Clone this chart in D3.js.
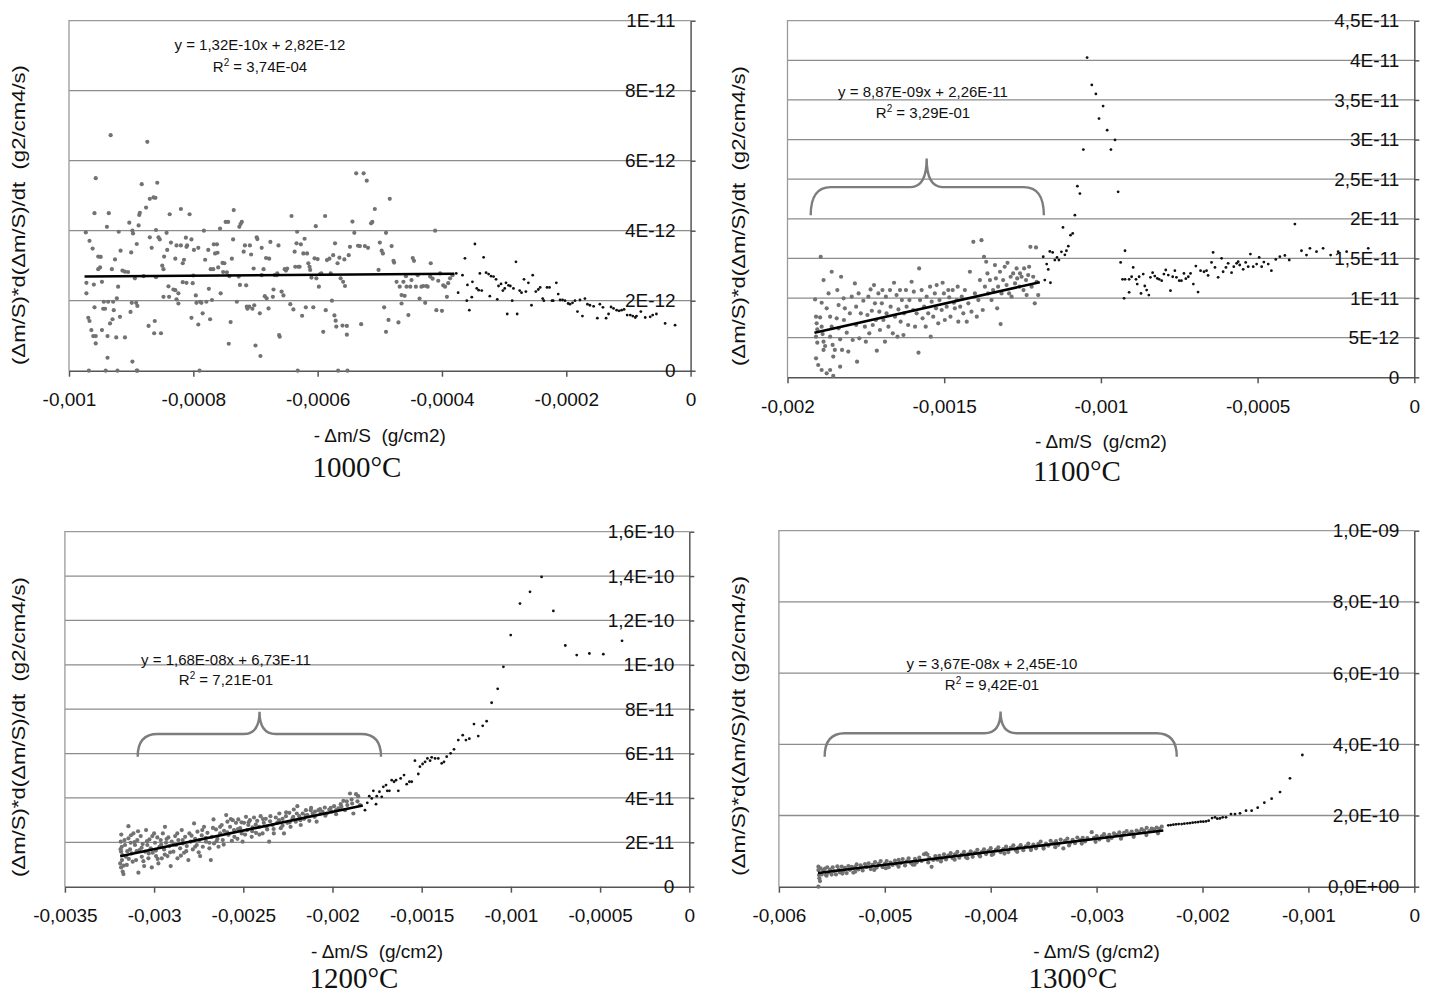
<!DOCTYPE html>
<html>
<head>
<meta charset="utf-8">
<script src="https://cdn.jsdelivr.net/npm/d3@7"></script>
<style>
  body { margin: 0; background: #fff; }
  text { font-family: "Liberation Sans", Arial, sans-serif; }
</style>
</head>
<body>
<div id="chart"></div>
<script>
// units: x in 1e-4 g/cm2, y in 1e-12 g2/cm4/s (1300°C: y in 1e-11)

// ---------- 1000°C ----------
const grey1000 = [[-9.73,3.95],[-9.67,3.71],[-9.62,3.49],[-9.72,2.51],[-9.72,2.21],[-9.69,1.51],[-9.67,1.42],[-9.64,1.16],[-9.61,0.99],[-9.57,0.99],[-9.57,0.78],[-9.59,1.81],[-9.60,2.46],[-9.57,5.50],[-9.59,4.50],[-9.53,3.26],[-9.49,3.25],[-9.53,2.90],[-9.50,2.95],[-9.68,0],[-9.41,0],[-9.22,0],[-8.91,0],[-8.90,0],[-9.47,1.16],[-9.47,2.54],[-9.45,1.77],[-9.42,1.77],[-9.44,1.97],[-9.39,4.11],[-9.36,4.50],[-9.33,6.73],[-9.37,1.97],[-9.38,0.37],[-9.38,0.99],[-9.34,1.35],[-9.31,2.90],[-9.30,1.47],[-9.29,1.97],[-9.28,1.73],[-9.26,3.18],[-9.24,0.95],[-9.23,2.07],[-9.21,2.40],[-9.20,3.97],[-9.18,1.54],[-9.17,3.43],[-9.14,2.86],[-9.10,2.83],[-9.05,2.82],[-9.03,4.23],[-9.00,3.38],[-9.01,1.68],[-8.99,1.94],[-8.98,4.00],[-8.97,3.92],[-9.10,0.95],[-8.98,0.26],[-8.94,2.64],[-8.92,1.94],[-8.90,1.85],[-8.88,4.15],[-8.87,4.45],[-8.91,3.62],[-8.86,4.51],[-8.83,5.33],[-8.80,2.70],[-8.76,4.66],[-8.74,6.54],[-8.72,1.28],[-8.70,4.91],[-8.70,3.81],[-8.67,3.51],[-8.64,4.95],[-8.62,1.42],[-8.61,4.94],[-8.60,4.02],[-8.60,2.67],[-8.63,1.07],[-8.58,5.37],[-8.56,3.81],[-8.54,3.75],[-8.52,1.07],[-8.50,3.00],[-8.48,2.90],[-8.48,2.11],[-8.47,3.26],[-8.43,3.94],[-8.42,3.45],[-8.40,2.41],[-8.39,2.11],[-8.38,4.47],[-8.36,3.66],[-8.32,2.32],[-8.29,3.20],[-8.29,2.30],[-8.27,3.58],[-8.27,2.04],[-8.24,1.92],[-8.24,2.21],[-8.20,3.58],[-8.20,4.62],[-8.17,2.53],[-8.17,3.07],[-8.15,3.17],[-8.12,3.80],[-8.11,2.51],[-8.11,3.54],[-8.10,3.58],[-8.06,4.47],[-8.03,1.51],[-8.03,3.75],[-8.01,2.50],[-8.00,2.72],[-7.99,3.45],[-7.96,2.15],[-7.95,1.94],[-7.92,1.32],[-7.92,3.51],[-7.90,0],[-7.89,1.97],[-7.87,1.94],[-7.85,1.64],[-7.83,4.00],[-7.81,3.17],[-7.79,1.97],[-7.76,3.45],[-7.75,2.34],[-7.73,1.47],[-7.72,2.90],[-7.70,2.02],[-7.68,2.90],[-7.67,3.61],[-7.65,3.35],[-7.62,3.61],[-7.61,3.37],[-7.60,2.95],[-7.57,4.06],[-7.56,2.21],[-7.53,3.08],[-7.52,2.82],[-7.50,3.07],[-7.48,4.25],[-7.46,2.81],[-7.44,4.25],[-7.43,0.77],[-7.42,2.70],[-7.40,1.39],[-7.38,3.20],[-7.36,3.75],[-7.35,4.59],[-7.30,1.97],[-7.27,2.69],[-7.26,4.11],[-7.25,2.45],[-7.24,4.19],[-7.22,4.25],[-7.19,3.40],[-7.17,3.58],[-7.15,2.44],[-7.14,1.83],[-7.13,1.77],[-7.10,1.83],[-7.09,3.58],[-7.07,3.32],[-7.05,1.77],[-7.03,2.92],[-7.02,1.87],[-7.00,0.72],[-6.98,3.81],[-6.97,3.76],[-6.93,1.64],[-6.92,0.42],[-6.90,3.51],[-6.90,2.73],[-6.87,2.90],[-6.85,2.13],[-6.83,3.22],[-6.82,2.07],[-6.79,1.78],[-6.78,3.20],[-6.76,3.68],[-6.72,2.11],[-6.71,2.32],[-6.69,2.73],[-6.66,2.73],[-6.65,2.78],[-6.63,3.58],[-6.62,1.02],[-6.61,0.97],[-6.58,2.26],[-6.55,2.15],[-6.53,2.90],[-6.51,2.86],[-6.49,2.92],[-6.44,1.90],[-6.42,4.42],[-6.39,1.75],[-6.37,3.40],[-6.36,2.97],[-6.34,3.64],[-6.33,3.97],[-6.32,0],[-6.31,2.97],[-6.29,2.97],[-6.27,3.61],[-6.25,1.57],[-6.23,3.35],[-6.21,3.77],[-6.19,1.81],[-6.17,3.35],[-6.15,3.07],[-6.13,2.97],[-6.12,2.88],[-6.10,2.66],[-6.07,1.81],[-6.05,3.21],[-6.03,4.13],[-6.02,2.64],[-6.00,3.19],[-5.98,2.40],[-5.96,2.76],[-5.94,2.78],[-5.91,1.11],[-5.88,4.42],[-5.87,1.73],[-5.85,3.16],[-5.81,3.20],[-5.79,2.78],[-5.77,2.00],[-5.75,3.30],[-5.73,1.58],[-5.72,3.64],[-5.71,1.43],[-5.70,1.26],[-5.68,3.07],[-5.67,0],[-5.65,3.23],[-5.63,2.64],[-5.60,1.29],[-5.59,2.54],[-5.57,3.18],[-5.56,2.42],[-5.53,1.03],[-5.53,1.28],[-5.52,0],[-5.50,3.30],[-5.48,3.54],[-5.44,4.26],[-5.41,3.94],[-5.38,5.64],[-5.35,3.57],[-5.30,1.33],[-5.32,3.56],[-5.26,5.64],[-5.24,3.56],[-5.21,5.43],[-5.19,3.51],[-5.14,4.21],[-5.12,4.25],[-5.08,4.62],[-5.02,2.88],[-5.00,3.66],[-4.97,3.43],[-4.95,3.35],[-4.93,1.81],[-4.90,3.94],[-4.90,1.11],[-4.86,1.45],[-4.84,4.91],[-4.81,3.56],[-4.78,3.14],[-4.77,3.09],[-4.73,2.54],[-4.70,1.38],[-4.68,2.40],[-4.65,2.16],[-4.65,1.92],[-4.62,2.54],[-4.60,2.14],[-4.58,2.70],[-4.57,2.40],[-4.54,1.59],[-4.51,2.40],[-4.49,2.59],[-4.47,3.22],[-4.45,3.14],[-4.42,2.40],[-4.39,2.73],[-4.36,2.06],[-4.33,2.40],[-4.30,2.42],[-4.27,1.94],[-4.25,2.42],[-4.23,2.40],[-4.19,2.69],[-4.18,3.07],[-4.15,2.63],[-4.11,4.00],[-4.09,1.73],[-4.06,2.57],[-4.03,2.78],[-4.00,1.71],[-3.98,2.44],[-3.95,2.40],[-3.92,2.11],[-3.90,2.50],[-3.87,2.64],[-3.83,2.73]];
const black1000 = [[-3.77,2.78],[-3.74,2.23],[-3.67,2.73],[-3.63,3.21],[-3.60,2.00],[-3.59,2.45],[-3.56,1.73],[-3.52,2.10],[-3.51,2.54],[-3.47,3.62],[-3.44,2.35],[-3.41,2.30],[-3.39,2.78],[-3.36,2.29],[-3.33,3.24],[-3.29,2.80],[-3.25,2.76],[-3.23,2.13],[-3.21,2.70],[-3.17,2.69],[-3.13,2.61],[-3.11,2.04],[-3.09,2.42],[-3.05,2.48],[-3.02,2.29],[-2.99,2.35],[-2.97,2.51],[-2.95,1.62],[-2.93,2.44],[-2.90,2.42],[-2.87,2.00],[-2.85,2.35],[-2.81,3.11],[-2.79,1.62],[-2.75,2.29],[-2.72,2.23],[-2.68,2.61],[-2.65,2.26],[-2.61,2.51],[-2.56,1.87],[-2.54,2.73],[-2.49,2.26],[-2.45,2.32],[-2.42,2.38],[-2.38,2.06],[-2.36,2.00],[-2.31,2.38],[-2.27,2.38],[-2.23,2.00],[-2.21,2.00],[-2.16,2.51],[-2.13,2.19],[-2.10,2.02],[-2.06,2.02],[-2.02,2.00],[-1.97,1.92],[-1.94,1.90],[-1.90,1.94],[-1.86,2.00],[-1.82,1.69],[-1.78,2.02],[-1.74,1.56],[-1.70,2.06],[-1.66,1.90],[-1.62,1.87],[-1.56,1.84],[-1.50,1.50],[-1.46,1.90],[-1.41,1.81],[-1.36,1.50],[-1.32,1.62],[-1.28,1.82],[-1.24,1.78],[-1.19,1.73],[-1.15,1.71],[-1.11,1.73],[-1.07,1.75],[-1.02,1.59],[-0.97,1.59],[-0.93,1.56],[-0.89,1.52],[-0.87,1.56],[-0.80,1.69],[-0.73,1.52],[-0.65,1.54],[-0.61,1.59],[-0.55,1.62],[-0.41,1.35],[-0.25,1.30]];
const fit1000 = { slope: 0.0132, intercept: 2.82, from: -9.75, to: -3.8 };
const eq1000 = ["y = 1,32E-10x + 2,82E-12", "3,74E-04"];
const xTicks1000 = [-10, -8, -6, -4, -2, 0];
const xLabels1000 = ["-0,001", "-0,0008", "-0,0006", "-0,0004", "-0,0002", "0"];
const yTicks1000 = [0, 2, 4, 6, 8, 10];
const yLabels1000 = ["0", "2E-12", "4E-12", "6E-12", "8E-12", "1E-11"];

// ---------- 1100°C ----------
const grey1100 = [[-18.94,15.21],[-19.12,9.83],[-19.09,7.65],[-19.07,6.81],[-19.05,6.05],[-19.09,5.13],[-19.05,4.37],[-19.09,2.39],[-19.02,1.55],[-18.85,12.27],[-18.91,9.41],[-18.96,7.56],[-18.91,6.39],[-18.88,5.46],[-18.85,4.50],[-18.80,3.95],[-18.85,3.45],[-18.91,0.92],[-18.75,0.50],[-18.64,0.92],[-18.54,0.17],[-18.59,13.32],[-18.69,10.59],[-18.75,8.70],[-18.64,7.65],[-18.59,6.39],[-18.64,5.13],[-18.56,4.08],[-18.49,3.45],[-18.54,2.61],[-18.32,1.34],[-18.41,11.01],[-18.37,9.12],[-18.43,7.44],[-18.37,6.18],[-18.32,4.79],[-18.26,3.45],[-18.29,12.69],[-18.21,9.96],[-18.17,8.70],[-18.20,7.23],[-18.11,5.63],[-18.06,3.24],[-18.01,8.07],[-17.95,10.17],[-17.92,4.71],[-17.85,11.85],[-17.81,8.91],[-17.81,6.60],[-17.78,1.97],[-17.73,10.59],[-17.71,4.92],[-17.66,8.07],[-17.58,9.66],[-17.53,6.39],[-17.50,4.50],[-17.45,7.86],[-17.42,10.17],[-17.39,5.55],[-17.35,11.09],[-17.31,8.40],[-17.28,6.60],[-17.24,11.64],[-17.21,9.33],[-17.18,7.23],[-17.15,3.36],[-17.10,10.59],[-17.07,8.28],[-17.05,5.97],[-16.99,9.33],[-16.97,11.01],[-16.94,7.23],[-16.89,4.50],[-16.86,10.17],[-16.84,8.07],[-16.78,6.39],[-16.73,11.01],[-16.71,8.91],[-16.64,5.55],[-16.60,11.93],[-16.57,7.65],[-16.52,10.38],[-16.49,5.13],[-16.46,8.57],[-16.41,11.01],[-16.39,7.02],[-16.35,9.75],[-16.30,5.34],[-16.28,8.07],[-16.22,11.01],[-16.20,8.91],[-16.15,6.60],[-16.11,9.75],[-16.04,12.06],[-15.99,8.49],[-15.97,10.80],[-15.93,6.39],[-15.88,8.07],[-15.82,3.11],[-15.80,13.74],[-15.77,9.75],[-15.72,11.01],[-15.69,7.44],[-15.64,8.91],[-15.59,6.39],[-15.56,10.17],[-15.51,8.07],[-15.45,11.43],[-15.43,5.13],[-15.40,9.54],[-15.35,7.65],[-15.30,10.59],[-15.26,8.70],[-15.24,11.64],[-15.19,6.81],[-15.15,9.75],[-15.08,8.49],[-15.05,11.93],[-15.01,10.59],[-14.98,7.23],[-14.92,8.91],[-14.87,11.01],[-14.84,10.08],[-14.80,7.65],[-14.73,11.01],[-14.69,9.41],[-14.66,8.70],[-14.60,9.75],[-14.57,11.43],[-14.55,7.02],[-14.49,8.91],[-14.44,10.17],[-14.39,8.07],[-14.34,11.01],[-14.28,7.02],[-14.23,9.33],[-14.18,13.32],[-14.13,8.28],[-14.07,17.10],[-14.02,10.59],[-13.96,7.65],[-13.91,9.75],[-13.86,12.27],[-13.81,17.31],[-13.77,8.49],[-13.73,15.21],[-13.70,11.43],[-13.66,14.58],[-13.62,13.11],[-13.60,10.59],[-13.54,12.27],[-13.49,9.75],[-13.44,11.01],[-13.38,14.16],[-13.35,12.48],[-13.31,8.70],[-13.28,11.43],[-13.22,13.32],[-13.20,6.72],[-13.17,10.59],[-13.12,12.27],[-13.07,13.95],[-13.01,11.64],[-12.98,14.45],[-12.93,10.59],[-12.88,12.69],[-12.85,10.17],[-12.80,13.11],[-12.74,11.85],[-12.69,13.74],[-12.67,12.48],[-12.60,11.43],[-12.58,13.11],[-12.53,12.69],[-12.47,11.01],[-12.45,13.74],[-12.39,12.27],[-12.37,10.38],[-12.32,12.90],[-12.29,13.95],[-12.25,16.47],[-12.21,11.43],[-12.16,12.69],[-12.11,9.33],[-12.07,16.39],[-12.05,12.06],[-12.00,10.38]];
const black1100 = [[-11.84,15.21],[-11.79,12.27],[-11.73,14.29],[-11.68,13.61],[-11.61,11.93],[-11.63,15.88],[-11.54,15.76],[-11.47,14.79],[-11.40,15.13],[-11.34,14.79],[-11.26,15.84],[-11.21,18.91],[-11.15,15.46],[-11.10,15.97],[-11.04,16.55],[-10.97,17.94],[-10.90,18.15],[-10.83,20.46],[-10.75,24.12],[-10.67,23.19],[-10.56,28.74],[-10.44,40.35],[-10.29,36.9],[-10.16,35.76],[-10.06,32.65],[-9.93,34.23],[-9.80,31.18],[-9.68,28.74],[-9.55,29.96],[-9.45,23.40],[-9.37,14.50],[-9.23,15.97],[-9.31,12.36],[-9.23,12.36],[-9.10,12.36],[-9.26,9.96],[-9.10,10.72],[-9.02,12.69],[-8.97,13.87],[-8.88,12.36],[-8.84,11.77],[-8.78,12.69],[-8.72,10.59],[-8.65,13.03],[-8.60,11.52],[-8.54,11.01],[-8.47,10.38],[-8.42,12.61],[-8.35,13.20],[-8.28,12.78],[-8.20,12.48],[-8.14,12.36],[-8.06,12.19],[-7.99,13.03],[-7.93,13.54],[-7.85,12.90],[-7.78,10.93],[-7.71,12.69],[-7.64,13.45],[-7.59,12.61],[-7.50,12.19],[-7.43,12.19],[-7.35,13.11],[-7.29,12.44],[-7.21,12.69],[-7.14,13.11],[-7.05,11.77],[-6.97,14.04],[-6.90,10.76],[-6.82,13.45],[-6.71,13.32],[-6.63,13.45],[-6.58,12.86],[-6.47,14.50],[-6.42,15.76],[-6.36,13.87],[-6.26,12.61],[-6.15,15.01],[-6.10,13.32],[-6.01,13.87],[-5.94,14.38],[-5.83,13.20],[-5.76,13.96],[-5.67,14.38],[-5.62,14.59],[-5.57,14.17],[-5.46,13.62],[-5.38,14.50],[-5.30,13.96],[-5.23,15.55],[-5.14,13.96],[-5.03,14.29],[-4.95,15.13],[-4.87,13.96],[-4.80,14.54],[-4.66,14.29],[-4.56,13.45],[-4.42,14.88],[-4.29,15.22],[-4.13,15.38],[-3.99,14.80],[-3.81,19.34],[-3.60,15.97],[-3.44,15.43],[-3.33,16.27],[-3.12,15.85],[-2.91,16.27],[-2.67,15.43],[-2.43,15.85],[-2.16,15.85],[-1.47,16.27]];
const fit1100 = { slope: 0.887, intercept: 22.6, from: -19.14, to: -11.95 };
const eq1100 = ["y = 8,87E-09x + 2,26E-11", "3,29E-01"];
const brace1100 = { from: -19.26, to: -11.82, tip: -15.56, end: 20.46, mid: 24.0, top: 27.6 };
const xTicks1100 = [-20, -15, -10, -5, 0];
const xLabels1100 = ["-0,002", "-0,0015", "-0,001", "-0,0005", "0"];
const yTicks1100 = [0, 5, 10, 15, 20, 25, 30, 35, 40, 45];
const yLabels1100 = ["0", "5E-12", "1E-11", "1,5E-11", "2E-11", "2,5E-11", "3E-11", "3,5E-11", "4E-11", "4,5E-11"];

// ---------- 1200°C ----------
const grey1200 = [[-31.87,20.3],[-31.81,18.0],[-31.85,15.8],[-31.80,12.0],[-31.85,8.7],[-31.76,6.8],[-31.72,5.7],[-31.63,18.8],[-31.58,13.5],[-31.53,9.8],[-31.44,27.3],[-31.44,21.8],[-31.35,16.8],[-31.31,19.8],[-31.26,15.0],[-31.16,24.0],[-31.07,18.8],[-31.01,12.0],[-30.94,21.0],[-30.88,6.3],[-30.82,16.5],[-30.75,22.8],[-30.69,13.5],[-30.64,19.2],[-30.56,9.3],[-30.50,15.8],[-30.45,25.5],[-30.38,18.8],[-30.32,12.8],[-30.26,21.3],[-30.19,17.3],[-30.13,8.7],[-30.08,15.3],[-30.00,24.0],[-29.95,19.8],[-29.89,13.8],[-29.82,22.2],[-29.76,10.5],[-29.70,18.0],[-29.63,21.0],[-29.57,12.8],[-29.51,24.0],[-29.44,16.8],[-29.39,27.0],[-29.33,19.8],[-29.25,13.8],[-29.20,22.2],[-29.14,18.3],[-29.07,9.3],[-29.01,20.3],[-28.92,15.8],[-28.82,22.8],[-28.77,18.8],[-28.69,12.8],[-28.64,21.0],[-28.54,17.3],[-28.45,25.5],[-28.39,19.5],[-28.32,15.3],[-28.26,22.5],[-28.17,18.3],[-28.08,12.0],[-28.02,24.0],[-27.95,20.3],[-27.83,16.8],[-27.76,28.5],[-27.70,21.6],[-27.61,18.8],[-27.57,24.8],[-27.46,21.0],[-27.42,13.8],[-27.33,23.1],[-27.27,18.0],[-27.20,27.0],[-27.09,20.3],[-27.01,24.3],[-26.90,17.3],[-26.82,12.0],[-26.76,22.5],[-26.67,30.3],[-26.64,19.5],[-26.53,25.8],[-26.45,21.6],[-26.39,18.0],[-26.30,24.0],[-26.21,27.8],[-26.15,21.0],[-26.08,25.2],[-25.96,32.3],[-25.89,29.3],[-25.83,23.4],[-25.74,27.0],[-25.64,20.7],[-25.59,30.0],[-25.52,25.5],[-25.41,28.8],[-25.33,21.6],[-25.28,30.3],[-25.18,26.4],[-25.09,24.0],[-25.04,20.3],[-24.96,28.8],[-24.85,31.5],[-24.78,25.5],[-24.72,27.8],[-24.63,30.0],[-24.53,22.5],[-24.48,26.7],[-24.40,31.2],[-24.29,24.3],[-24.22,29.7],[-24.11,27.0],[-24.03,31.8],[-23.92,24.0],[-23.85,28.8],[-23.74,30.6],[-23.66,25.8],[-23.55,20.3],[-23.48,31.8],[-23.36,27.8],[-23.29,24.0],[-23.18,31.2],[-23.10,28.8],[-22.98,33.0],[-22.90,26.4],[-22.80,30.6],[-22.72,24.0],[-22.61,31.8],[-22.53,28.8],[-22.42,33.3],[-22.35,27.0],[-22.24,30.8],[-22.17,34.8],[-22.06,29.3],[-21.97,36.3],[-21.86,31.8],[-21.78,27.8],[-21.67,33.0],[-21.59,30.6],[-21.49,34.5],[-21.41,32.3],[-21.30,29.7],[-21.22,34.5],[-21.11,33.0],[-20.98,33.8],[-20.89,29.3],[-20.79,34.5],[-20.66,33.0],[-20.56,33.8],[-20.43,35.7],[-20.33,33.0],[-20.18,34.8],[-20.05,33.8],[-19.91,36.3],[-19.80,32.7],[-19.67,35.3],[-19.54,37.2],[-19.39,38.7],[-19.30,34.5],[-19.17,36.8],[-19.02,42.0],[-18.93,39.3],[-18.83,33.0],[-18.68,41.7],[-18.56,40.8],[-18.46,36.8],
  [-31.9,10.5],[-31.88,16.9],[-31.84,23.5],[-31.78,14.2],[-31.7,9.5],[-31.66,21.0],[-31.5,16.0],[-31.42,12.5],[-31.3,23.2],[-31.2,11.3],[-31.1,20.1],[-30.98,16.0],[-30.9,25.0],[-30.7,17.5],[-30.6,11.5],[-30.4,20.5],[-30.3,15.0],[-30.1,22.8],[-29.9,16.3],[-29.8,12.5],[-29.6,19.0],[-29.4,14.5],[-29.3,21.5],[-29.1,15.5],[-28.9,19.0],[-28.7,24.0],[-28.5,14.0],[-28.4,21.0],[-28.2,16.0],[-27.9,23.0],[-27.7,18.0],[-27.5,15.5],[-27.3,25.5],[-27.1,22.0],[-26.9,19.8],[-26.7,26.5],[-26.5,20.5],[-26.3,27.0],[-26.1,19.0],[-25.9,24.5],[-25.7,30.5],[-25.5,22.5],[-25.3,26.0],[-25.1,29.0],[-24.9,23.5],[-24.7,29.0],[-24.5,25.0],[-24.3,28.0],[-24.1,23.5],[-23.9,30.5],[-23.7,27.0],[-23.5,29.5],[-23.3,26.0],[-23.0,30.0],[-22.8,27.5],[-22.6,33.5],[-22.4,29.0],[-22.2,31.5],[-22.0,33.0],[-21.8,30.0],[-21.5,32.0],[-21.2,35.5],[-21.0,31.5],[-20.7,35.0],[-20.4,32.0],[-20.1,35.5],[-19.8,34.5],[-19.5,36.0],[-19.2,38.5],[-18.9,37.5],[-18.6,38.5]];
const black1200 = [[-18.18,34.5],[-18.05,37.8],[-17.94,40.8],[-17.80,39.8],[-17.71,43.2],[-17.56,37.2],[-17.52,40.8],[-17.37,42.8],[-17.24,40.5],[-17.15,45.0],[-17.00,45.8],[-16.93,43.2],[-16.81,43.2],[-16.68,48.0],[-16.55,47.3],[-16.44,48.0],[-16.31,43.2],[-16.18,48.8],[-15.99,50.3],[-15.84,46.2],[-15.69,47.3],[-15.56,47.3],[-15.38,56.8],[-15.19,50.8],[-15.10,54.1],[-14.95,55.3],[-14.81,56.3],[-14.68,57.8],[-14.53,56.8],[-14.44,58.3],[-14.25,57.8],[-14.07,57.8],[-13.88,55.6],[-13.75,56.3],[-13.60,58.6],[-13.38,60.1],[-13.19,61.9],[-12.95,66.1],[-12.70,68.3],[-12.52,66.1],[-12.33,66.7],[-12.07,73.3],[-11.83,67.9],[-11.58,72.5],[-11.36,74.6],[-11.08,82.9],[-10.74,89.2],[-10.42,99.1],[-10.01,113.4],[-9.49,127.6],[-8.93,132.9],[-8.28,139.6],[-7.62,124.3],[-6.95,108.7],[-6.31,104.4],[-5.60,105.1],[-4.82,104.8],[-3.77,110.8]];
const fit1200 = { slope: 1.68, intercept: 67.3, from: -31.9, to: -18.3 };
const eq1200 = ["y = 1,68E-08x + 6,73E-11", "7,21E-01"];
const brace1200 = { from: -30.92, to: -17.28, tip: -24.09, end: 58.6, mid: 68.8, top: 78.8 };
const xTicks1200 = [-35, -30, -25, -20, -15, -10, -5, 0];
const xLabels1200 = ["-0,0035", "-0,003", "-0,0025", "-0,002", "-0,0015", "-0,001", "-0,0005", "0"];
const yTicks1200 = [0, 20, 40, 60, 80, 100, 120, 140, 160];
const yLabels1200 = ["0", "2E-11", "4E-11", "6E-11", "8E-11", "1E-10", "1,2E-10", "1,4E-10", "1,6E-10"];

// ---------- 1300°C (y in 1e-11) ----------
const grey1300 = [[-56.27,5.62],[-56.27,4.68],[-56.21,3.28],[-56.18,2.34],[-56.12,1.59],[-56.27,0],[-56.06,5.13],[-55.96,3.46],[-55.80,4.62],[-55.65,5.08],[-55.55,3.31],[-55.43,5.46],[-55.33,3.99],[-55.17,4.75],[-55.02,3.41],[-54.92,5.44],[-54.80,4.39],[-54.61,3.46],[-54.48,5.71],[-54.36,4.85],[-54.23,4.00],[-54.07,5.66],[-53.92,4.41],[-53.76,5.27],[-53.60,3.83],[-53.44,5.79],[-53.29,4.74],[-53.13,5.60],[-52.97,3.96],[-52.81,5.52],[-52.66,6.27],[-52.50,4.83],[-52.28,6.01],[-52.09,4.58],[-51.87,6.36],[-51.71,5.52],[-51.52,6.59],[-51.33,4.96],[-51.14,6.13],[-50.92,6.91],[-50.77,5.37],[-50.58,6.44],[-50.39,7.21],[-50.20,5.48],[-49.98,6.46],[-49.82,7.22],[-49.63,5.49],[-49.45,6.75],[-49.26,6.12],[-49.04,7.30],[-48.88,6.36],[-48.69,7.53],[-48.50,6.60],[-48.31,7.77],[-48.09,5.95],[-47.94,7.11],[-47.75,7.98],[-47.56,6.75],[-47.37,6.22],[-47.15,7.80],[-46.99,6.85],[-46.74,8.15],[-46.52,7.23],[-46.30,9.11],[-46.11,9.38],[-45.98,9.03],[-45.80,8.09],[-45.58,5.57],[-45.42,7.53],[-45.23,8.60],[-45.04,7.57],[-44.85,8.64],[-44.63,7.92],[-44.41,9.10],[-44.22,7.67],[-44.00,8.75],[-43.78,9.43],[-43.59,8.00],[-43.37,9.08],[-43.15,9.76],[-42.96,8.13],[-42.74,9.01],[-42.52,9.79],[-42.33,8.26],[-42.11,9.15],[-41.89,9.93],[-41.70,8.40],[-41.48,9.58],[-41.26,10.36],[-41.07,8.83],[-40.85,9.71],[-40.63,10.49],[-40.44,9.16],[-40.22,10.04],[-40.00,10.82],[-39.75,9.21],[-39.50,10.40],[-39.28,11.08],[-39.06,9.67],[-38.81,10.56],[-38.55,11.25],[-38.33,9.73],[-38.11,10.91],[-37.86,11.61],[-37.61,10.20],[-37.39,10.98],[-37.17,11.66],[-36.92,10.25],[-36.67,11.34],[-36.45,12.12],[-36.23,10.80],[-35.97,11.80],[-35.72,10.79],[-35.50,12.07],[-35.28,12.65],[-35.03,11.24],[-34.78,12.14],[-34.56,11.52],[-34.34,12.90],[-34.08,12.19],[-33.83,12.78],[-33.61,11.76],[-33.39,13.25],[-33.14,10.74],[-32.98,12.90],[-32.76,13.48],[-32.51,12.27],[-32.26,13.16],[-32.04,12.24],[-31.82,13.82],[-31.57,13.11],[-31.31,13.71],[-31.09,12.69],[-30.87,13.67],[-30.46,15.32],[-30.25,13.70],[-29.99,14.19],[-29.74,13.29],[-29.52,14.17],[-29.30,14.75],[-29.05,13.84],[-28.80,14.53],[-28.58,13.71],[-28.36,14.99],[-28.10,14.49],[-27.85,15.28],[-27.63,14.26],[-27.41,15.14],[-27.16,15.63],[-26.91,14.82],[-26.69,15.50],[-26.47,14.69],[-26.22,15.78],[-25.97,15.37],[-25.75,16.15],[-25.52,15.73],[-25.27,16.53],[-25.02,15.62],[-24.80,16.30],[-24.58,16.08],[-24.33,16.57],[-24.08,16.26],[-23.85,16.85],
  [-55.5,3.1],[-54.0,3.7],[-52.8,4.2],[-51.0,4.7],[-49.9,5.2],[-48.7,5.6],[-47.2,6.2],[-45.9,6.8],[-44.7,7.1],[-43.4,7.6],[-42.2,8.0],[-41.0,8.5],[-39.9,8.9],[-38.7,9.3],[-37.5,9.8],[-36.2,10.3],[-35.0,10.7],[-33.9,11.1],[-32.6,11.6],[-31.4,12.1],[-30.1,12.6],[-28.9,13.0],[-27.7,13.5],[-26.5,14.0],[-25.3,14.5],[-24.2,15.0]];
const black1300 = [[-23.23,17.23],[-23.00,17.32],[-22.75,17.42],[-22.50,17.51],[-22.25,17.60],[-21.97,17.60],[-21.71,17.70],[-21.43,17.79],[-21.18,17.88],[-20.93,17.98],[-20.67,18.07],[-20.42,18.16],[-20.17,18.26],[-19.92,18.26],[-19.67,18.35],[-19.42,18.54],[-19.10,19.29],[-18.82,19.48],[-18.60,19.10],[-18.35,19.19],[-18.09,19.48],[-17.78,19.48],[-17.31,20.41],[-16.93,20.41],[-16.46,20.60],[-15.89,21.35],[-15.36,21.35],[-14.79,22.19],[-14.16,23.60],[-13.47,24.72],[-12.68,26.59],[-11.74,30.43],[-10.57,36.99]];
const fit1300 = { slope: 0.367, intercept: 24.5, from: -56.3, to: -23.7 };
const eq1300 = ["y = 3,67E-08x + 2,45E-10", "9,42E-01"];
const brace1300 = { from: -55.68, to: -22.43, tip: -39.07, end: 36.5, mid: 43.1, top: 49.2 };
const xTicks1300 = [-60, -50, -40, -30, -20, -10, 0];
const xLabels1300 = ["-0,006", "-0,005", "-0,004", "-0,003", "-0,002", "-0,001", "0"];
const yTicks1300 = [0, 20, 40, 60, 80, 100];
const yLabels1300 = ["0,0E+00", "2,0E-10", "4,0E-10", "6,0E-10", "8,0E-10", "1,0E-09"];

// layout of the four panels (plot box = left, top, right, bottom)
const panels = [
  { title: "1000°C", grey: grey1000, black: black1000, fit: fit1000, eq: eq1000, brace: null,
    xDomain: [-10, 0], yDomain: [0, 10], xTicks: xTicks1000, xLabels: xLabels1000, yTicks: yTicks1000, yLabels: yLabels1000,
    box: [69, 20.7, 690.6, 370.7], eqPos: [260, 50, 72], titlePos: [357, 477], yTitle: [18, 215],
    xTitle: "- \u0394m/S  (g/cm2)", yTitleText: "(\u0394m/S)*d(\u0394m/S)/dt  (g2/cm4/s)" },
  { title: "1100°C", grey: grey1100, black: black1100, fit: fit1100, eq: eq1100, brace: brace1100,
    xDomain: [-20, 0], yDomain: [0, 45], xTicks: xTicks1100, xLabels: xLabels1100, yTicks: yTicks1100, yLabels: yLabels1100,
    box: [787.5, 20.7, 1414.3, 377.3], eqPos: [923, 97, 118], titlePos: [1077, 481], yTitle: [738, 216],
    xTitle: "- \u0394m/S  (g/cm2)", yTitleText: "(\u0394m/S)*d(\u0394m/S)/dt  (g2/cm4/s)" },
  { title: "1200°C", grey: grey1200, black: black1200, fit: fit1200, eq: eq1200, brace: brace1200,
    xDomain: [-35, 0], yDomain: [0, 160], xTicks: xTicks1200, xLabels: xLabels1200, yTicks: yTicks1200, yLabels: yLabels1200,
    box: [64.9, 531.7, 689.3, 886.7], eqPos: [226, 665, 685], titlePos: [354, 988], yTitle: [18, 727],
    xTitle: "- \u0394m/S  (g/cm2)", yTitleText: "(\u0394m/S)*d(\u0394m/S)/dt  (g2/cm4/s)" },
  { title: "1300°C", grey: grey1300, black: black1300, fit: fit1300, eq: eq1300, brace: brace1300,
    xDomain: [-60, 0], yDomain: [0, 100], xTicks: xTicks1300, xLabels: xLabels1300, yTicks: yTicks1300, yLabels: yLabels1300,
    box: [778.9, 530.7, 1414.3, 886.7], eqPos: [992, 669, 690], titlePos: [1073, 988], yTitle: [738, 726],
    xTitle: "- \u0394m/S (g/cm2)", yTitleText: "(\u0394m/S)*d(\u0394m/S)/dt (g2/cm4/s)" }
];

const svg = d3.select("#chart")
  .append("svg")
  .attr("width", 1436)
  .attr("height", 997);

// curly brace built from scaled points
function bracePath(x, y, b) {
  const xa = x(b.from), xb = x(b.to), xt = x(b.tip);
  const ye = y(b.end), ym = y(b.mid), yt = y(b.top);
  const r = 20, r2 = 16;
  return `M${xa},${ye} Q${xa},${ym} ${xa + r},${ym} L${xt - r2},${ym} Q${xt},${ym} ${xt},${yt}` +
         ` Q${xt},${ym} ${xt + r2},${ym} L${xb - r},${ym} Q${xb},${ym} ${xb},${ye}`;
}

panels.forEach(function (p) {
  const [x0, y0, x1, y1] = p.box;
  const x = d3.scaleLinear().domain(p.xDomain).range([x0, x1]);
  const y = d3.scaleLinear().domain(p.yDomain).range([y1, y0]);
  const g = svg.append("g");

  // gridlines
  g.selectAll(".grid")
    .data(p.yTicks.filter(d => d > 0 && d < p.yDomain[1]))
    .join("line")
    .attr("x1", x0).attr("x2", x1)
    .attr("y1", d => y(d)).attr("y2", d => y(d))
    .attr("stroke", "#8c8c8c").attr("stroke-width", 1.3);

  // top and left frame
  g.append("path")
    .attr("d", `M${x0},${y1} V${y0} H${x1}`)
    .attr("fill", "none").attr("stroke", "#9a9a9a").attr("stroke-width", 1.3);

  // x axis
  const xAxis = g.append("g")
    .attr("transform", `translate(0,${y1})`)
    .call(d3.axisBottom(x).tickValues(p.xTicks).tickFormat((d, i) => p.xLabels[i])
      .tickSizeInner(6).tickSizeOuter(0).tickPadding(16));
  xAxis.selectAll("path, line").attr("stroke", "#555").attr("stroke-width", 1.5);
  xAxis.selectAll("text").attr("font-size", 19).attr("fill", "#111");

  // y axis on the right edge, labels inside
  const yAxis = g.append("g")
    .attr("transform", `translate(${x1},0)`)
    .call(d3.axisLeft(y).tickValues(p.yTicks).tickFormat((d, i) => p.yLabels[i])
      .tickSizeInner(-5).tickSizeOuter(0).tickPadding(15));
  yAxis.selectAll("path, line").attr("stroke", "#555").attr("stroke-width", 1.5);
  yAxis.selectAll("text").attr("font-size", 19).attr("fill", "#111");

  // grey points (fitted range)
  g.selectAll(".grey")
    .data(p.grey)
    .join("circle")
    .attr("cx", d => x(d[0])).attr("cy", d => y(d[1]))
    .attr("r", 2.1)
    .attr("fill", "#727272");

  // regression line
  g.append("line")
    .attr("x1", x(p.fit.from)).attr("y1", y(p.fit.intercept + p.fit.slope * p.fit.from))
    .attr("x2", x(p.fit.to)).attr("y2", y(p.fit.intercept + p.fit.slope * p.fit.to))
    .attr("stroke", "#000").attr("stroke-width", 2.6);

  // black points
  g.selectAll(".black")
    .data(p.black)
    .join("circle")
    .attr("cx", d => x(d[0])).attr("cy", d => y(d[1]))
    .attr("r", 1.4)
    .attr("fill", "#111");

  // brace
  if (p.brace) {
    g.append("path")
      .attr("d", bracePath(x, y, p.brace))
      .attr("fill", "none").attr("stroke", "#7d7d7d").attr("stroke-width", 2.4);
  }

  // equation and R2
  g.append("text")
    .attr("x", p.eqPos[0]).attr("y", p.eqPos[1])
    .attr("text-anchor", "middle").attr("font-size", 15).attr("fill", "#111")
    .style("white-space", "pre")
    .text(p.eq[0]);
  const r2 = g.append("text")
    .attr("x", p.eqPos[0]).attr("y", p.eqPos[2])
    .attr("text-anchor", "middle").attr("font-size", 15).attr("fill", "#111")
    .style("white-space", "pre");
  r2.append("tspan").text("R");
  r2.append("tspan").attr("dy", -6).attr("font-size", 10).text("2");
  r2.append("tspan").attr("dy", 6).text(" = " + p.eq[1]);

  // axis titles
  g.append("text")
    .attr("x", (x0 + x1) / 2).attr("y", y1 + 71)
    .attr("text-anchor", "middle").attr("font-size", 19).attr("fill", "#111")
    .style("white-space", "pre")
    .text(p.xTitle);
  g.append("text")
    .attr("transform", `translate(${p.yTitle[0]},${p.yTitle[1]}) rotate(-90)`)
    .attr("text-anchor", "middle").attr("dy", "0.35em")
    .attr("font-size", 19).attr("fill", "#111")
    .attr("textLength", 300).attr("lengthAdjust", "spacingAndGlyphs")
    .style("white-space", "pre")
    .text(p.yTitleText);

  // panel title, serif like the caption under each plot
  g.append("text")
    .attr("x", p.titlePos[0]).attr("y", p.titlePos[1])
    .attr("text-anchor", "middle")
    .style("font-family", "'Liberation Serif', 'Times New Roman', serif")
    .attr("font-size", 29).attr("fill", "#111")
    .text(p.title);
});
</script>
</body>
</html>
